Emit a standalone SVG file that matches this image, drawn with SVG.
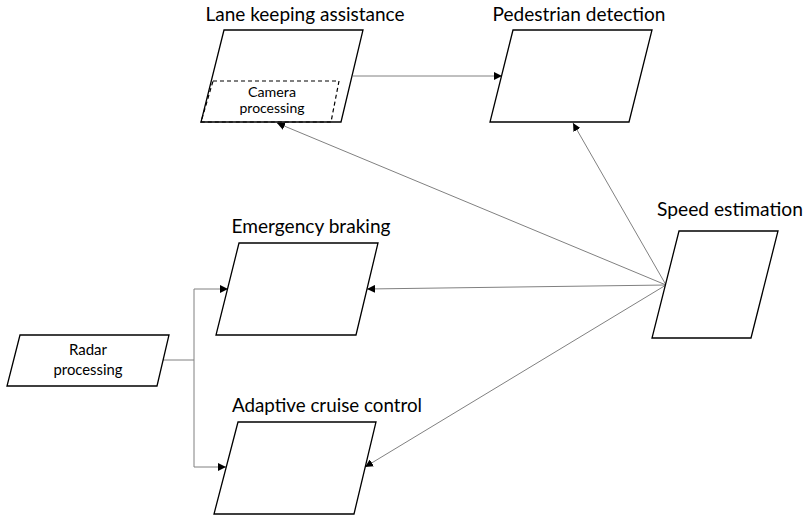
<svg xmlns="http://www.w3.org/2000/svg" width="803" height="516" viewBox="0 0 803 516">
  <style>
    .box { fill: #ffffff; stroke: #000000; stroke-width: 1.3; }
    .dash { fill: none; stroke: #000000; stroke-width: 1.2; stroke-dasharray: 4 3; }
    .title { font-family: Lato, "Open Sans", "Liberation Sans", sans-serif; font-size: 19px; fill: #000000; text-anchor: middle; }
    .label { font-family: Lato, "Open Sans", "Liberation Sans", sans-serif; font-size: 14px; fill: #000000; text-anchor: middle; }
    .label.big { font-size: 15px; }
    .conn { fill: none; stroke: #808080; stroke-width: 1; }
  </style>
  <defs>
    <marker id="arrow" viewBox="0 0 10 10" refX="10" refY="5" markerWidth="8" markerHeight="8" markerUnits="userSpaceOnUse" orient="auto">
      <path d="M0,0 L10,5 L0,10 Z" fill="#000000"/>
    </marker>
  </defs>
  <rect width="803" height="516" fill="#ffffff"/>

  <g id="connectors">
    <!-- Lane keeping to pedestrian detection -->
    <line class="conn" x1="353" y1="76" x2="502" y2="76" marker-end="url(#arrow)"/>
    <!-- Radar processing fan-out -->
    <polyline class="conn" points="163,360 194,360"/>
    <polyline class="conn" points="194,360 194,289 228,289" marker-end="url(#arrow)"/>
    <polyline class="conn" points="194,360 194,467 226,467" marker-end="url(#arrow)"/>
    <!-- Speed estimation outputs -->
    <line class="conn" x1="666" y1="285" x2="277" y2="123" marker-end="url(#arrow)"/>
    <line class="conn" x1="666" y1="285" x2="573" y2="123" marker-end="url(#arrow)"/>
    <line class="conn" x1="666" y1="285" x2="367" y2="289" marker-end="url(#arrow)"/>
    <line class="conn" x1="666" y1="285" x2="365" y2="467" marker-end="url(#arrow)"/>
  </g>

  <g id="lane-keeping">
    <polygon class="box" points="224,30 363,30 341,122 201,122"/>
    <polygon class="dash" points="213,81 339,81 331,122 201,122"/>
    <text class="title" x="305" y="21" textLength="199" lengthAdjust="spacingAndGlyphs">Lane keeping assistance</text>
    <text class="label" x="272" y="97" textLength="48" lengthAdjust="spacingAndGlyphs">Camera</text>
    <text class="label" x="272" y="113" textLength="65" lengthAdjust="spacingAndGlyphs">processing</text>
  </g>

  <g id="pedestrian-detection">
    <polygon class="box" points="513,30 652,30 629,122 490,122"/>
    <text class="title" x="579" y="21" textLength="173" lengthAdjust="spacingAndGlyphs">Pedestrian detection</text>
  </g>

  <g id="speed-estimation">
    <polygon class="box" points="679,231 778,231 751,338 652,338"/>
    <text class="title" x="730" y="216" textLength="146" lengthAdjust="spacingAndGlyphs">Speed estimation</text>
  </g>

  <g id="emergency-braking">
    <polygon class="box" points="239,243 378,243 356,335 216,335"/>
    <text class="title" x="311" y="233" textLength="159" lengthAdjust="spacingAndGlyphs">Emergency braking</text>
  </g>

  <g id="adaptive-cruise-control">
    <polygon class="box" points="238,422 376,422 354,514 214,514"/>
    <text class="title" x="327" y="412" textLength="190" lengthAdjust="spacingAndGlyphs">Adaptive cruise control</text>
  </g>

  <g id="radar-processing">
    <polygon class="box" points="20,335 169,335 157,386 7,386"/>
    <text class="label big" x="88" y="355">Radar</text>
    <text class="label big" x="88" y="375" textLength="69" lengthAdjust="spacingAndGlyphs">processing</text>
  </g>
</svg>
